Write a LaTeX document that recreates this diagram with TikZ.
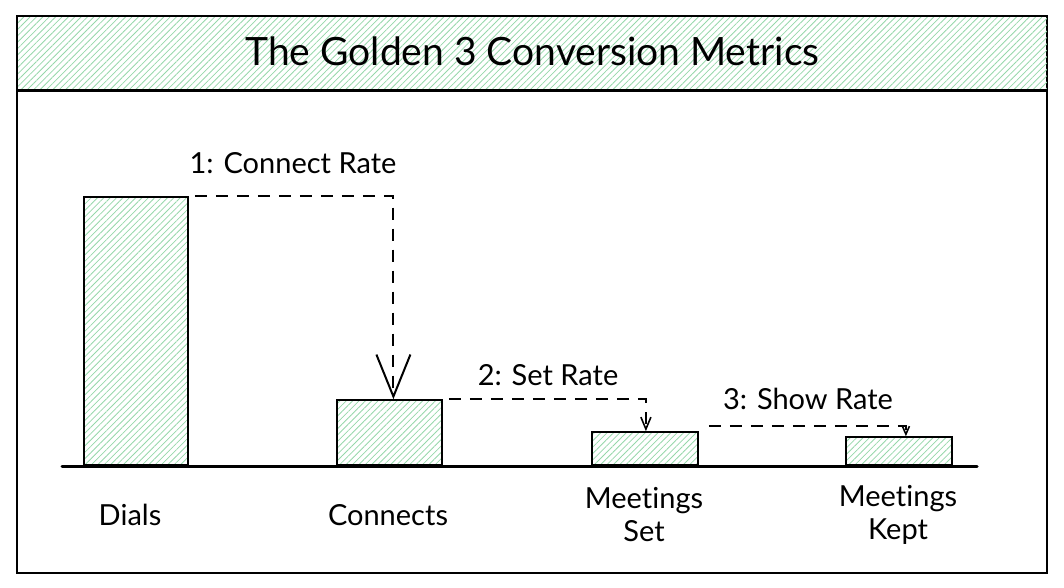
\documentclass[tikz,border=0pt]{standalone}
\usepackage{fontspec}
\setmainfont{Lato}[Ligatures={NoCommon}]
\usetikzlibrary{patterns.meta,arrows.meta,calc}
\definecolor{hatch}{RGB}{150,215,170}
\tikzset{
  hatched/.style={pattern={Lines[angle=45,distance=4.5pt,line width=0.8pt]},pattern color=hatch},
  bar/.style={draw=black,line width=1.8pt,hatched,inner sep=0pt,anchor=south west},
  flow/.style={draw=black,line width=2pt,dash pattern=on 12pt off 9pt},
  lbl/.style={font=\fontsize{29}{33}\selectfont,align=center,inner sep=0pt},
}
\begin{document}
\begin{tikzpicture}[x=1pt,y=-1pt]
\useasboundingbox (0,0) rectangle (1064,588);
% frame
\draw[line width=1.6pt] (17,16) rectangle (1047,573);
\node[draw=black,line width=1.6pt,hatched,inner sep=0pt,minimum width=1030pt,minimum height=74pt,anchor=north west] (titlebar) at (17,16) {};
\draw[line width=3pt] (titlebar.south west) -- (titlebar.south east);
\node[font=\fontsize{39}{46}\selectfont] (title) at ($(titlebar.center)+(0,-2)$) {The Golden 3 Conversion Metrics};
% baseline
\coordinate (b0) at (62,466);
\coordinate (b1) at (977,466);
\draw[line width=3pt,line cap=round] (b0) -- (b1);
% bars
\node[bar,minimum width=104pt,minimum height=268pt] (dials) at (83,466) {};
\node[bar,minimum width=105pt,minimum height=65pt] (connects) at (336,466) {};
\node[bar,minimum width=106pt,minimum height=33pt] (mset) at (591,466) {};
\node[bar,minimum width=106pt,minimum height=28pt] (mkept) at (845,466) {};
% category labels
\node[lbl] (ldials) at (130,515) {Dials};
\node[lbl] (lconn) at (388,515) {Connects};
\node[lbl] (lmset) at (644,515) {Meetings\\Set};
\node[lbl] (lmkept) at (898,515) {Meetings\\Kept};
% connectors
\coordinate (s1) at ($(dials.north east)+(6,0)$);
\coordinate (e1) at ($(connects.north)+(4,0)$);
\draw[flow,-{Straight Barb[length=42pt,width=34pt,line width=2pt]}] (s1) -| (e1);
\coordinate (s2) at ($(connects.north east)+(6,0)$);
\coordinate (e2) at ($(mset.north)+(1,0)$);
\draw[flow,-{Straight Barb[length=12pt,width=10pt,line width=1.6pt]}] (s2) -| (e2);
\coordinate (s3) at ($(mset.north east)+(10,-5)$);
\coordinate (e3) at ($(mkept.north)+(7,0)$);
\draw[flow,-{Straight Barb[length=8pt,width=7pt,line width=1.6pt]}] (s3) -| (e3);
% rate labels
\node[lbl] (r1) at (293,163) {1: Connect Rate};
\node[lbl] (r2) at (548,375) {2: Set Rate};
\node[lbl] (r3) at (808,399) {3: Show Rate};
\end{tikzpicture}
\end{document}
